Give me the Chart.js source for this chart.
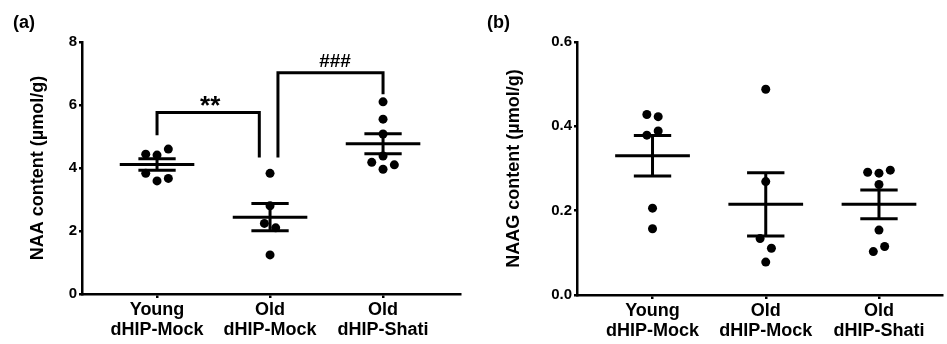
<!DOCTYPE html>
<html>
<head>
<meta charset="utf-8">
<script src="https://cdn.jsdelivr.net/npm/chart.js@4.4.0/dist/chart.umd.min.js"></script>
<style>
  body { margin: 0; background: #fff; width: 947px; height: 344px; overflow: hidden; position: relative; font-family: "Liberation Sans", Arial, sans-serif; }
  .panel { position: absolute; top: 0; height: 344px; }
  #wrapA { left: 0; width: 470px; }
  #wrapB { left: 470px; width: 477px; }
  .tag { position: absolute; top: 13px; font-weight: bold; font-size: 18px; line-height: 1; color: #000; }
</style>
</head>
<body>
<div class="panel" id="wrapA"><canvas id="chartA"></canvas></div>
<div class="panel" id="wrapB"><canvas id="chartB"></canvas></div>
<div class="tag" style="left:13px">(a)</div>
<div class="tag" style="left:487px">(b)</div>
<script>
const FONT = '"Liberation Sans", Arial, sans-serif';

// group labels (two lines each)
const GROUPS = [['Young', 'dHIP-Mock'], ['Old', 'dHIP-Mock'], ['Old', 'dHIP-Shati']];

// (a) NAA content, individual animals + horizontal jitter as drawn
const NAA_YOUNG      = [4.44, 4.41, 4.60, 3.83, 3.59, 3.67];
const NAA_YOUNG_JIT  = [-0.1, 0, 0.1, -0.1, 0, 0.1];
const NAA_OLDM       = [3.83, 2.80, 2.24, 2.10, 1.24];
const NAA_OLDM_JIT   = [0, 0, -0.05, 0.05, 0];
const NAA_SHATI      = [6.10, 5.55, 5.08, 4.38, 4.18, 4.10, 3.96];
const NAA_SHATI_JIT  = [0, 0, 0, 0, -0.1, 0.1, 0];
const NAA_MEAN = [4.11, 2.44, 4.77];
const NAA_SEM  = [0.185, 0.43, 0.315];

// significance brackets on (a)
const BR1_X = [0, 0, 0.905, 0.905];
const BR1_Y = [5.04, 5.76, 5.76, 4.33];
const BR2_X = [1.07, 1.07, 2, 2];
const BR2_Y = [4.33, 7.02, 7.02, 6.34];
const SIG_TEXT = ['**', '###'];
const SIG_X = [0.47, 1.575];
const SIG_Y = [5.70, 7.20];

// (b) NAAG content
const NAAG_YOUNG     = [0.428, 0.423, 0.379, 0.389, 0.206, 0.157];
const NAAG_YOUNG_JIT = [-0.05, 0.05, -0.05, 0.05, 0, 0];
const NAAG_OLDM      = [0.488, 0.269, 0.134, 0.111, 0.078];
const NAAG_OLDM_JIT  = [0, 0, -0.05, 0.05, 0];
const NAAG_SHATI     = [0.291, 0.289, 0.296, 0.262, 0.154, 0.103, 0.115];
const NAAG_SHATI_JIT = [-0.1, 0, 0.1, 0, 0, -0.05, 0.05];
const NAAG_MEAN = [0.330, 0.215, 0.215];
const NAAG_SEM  = [0.048, 0.075, 0.034];

function seg(xs, ys, w) {
  return {
    type: 'line',
    data: xs.map((x, i) => ({ x, y: ys[i] })),
    borderColor: '#000',
    borderWidth: w || 3,
    pointRadius: 0,
    fill: false,
    tension: 0,
    borderCapStyle: 'butt'
  };
}

function buildDatasets(groups, jitters, mean, sem) {
  const ds = [];
  mean.forEach((m, g) => {
    const lo = m - sem[g], hi = m + sem[g];
    ds.push(seg([g - 0.33, g + 0.33], [m, m]));
    ds.push(seg([g - 0.165, g + 0.165], [hi, hi]));
    ds.push(seg([g - 0.165, g + 0.165], [lo, lo]));
    ds.push(seg([g, g], [lo, hi]));
  });
  groups.forEach((vals, g) => {
    ds.push({
      type: 'scatter',
      data: vals.map((v, i) => ({ x: g + jitters[g][i], y: v })),
      pointRadius: 4.5,
      pointHoverRadius: 4.5,
      backgroundColor: '#000',
      borderWidth: 0
    });
  });
  return ds;
}

const sigLabels = {
  id: 'sigLabels',
  afterDatasetsDraw(chart) {
    if (chart.canvas.id !== 'chartA') return;
    const { ctx, scales: { x, y } } = chart;
    SIG_TEXT.forEach((t, i) => {
      ctx.save();
      ctx.font = (i === 0 ? 'bold 26px ' : 'bold 19px ') + FONT;
      ctx.fillStyle = '#000';
      ctx.textAlign = 'center';
      ctx.textBaseline = 'alphabetic';
      ctx.fillText(t, x.getPixelForValue(SIG_X[i]), y.getPixelForValue(SIG_Y[i]));
      ctx.restore();
    });
  }
};

function makeChart(id, datasets, o) {
  return new Chart(document.getElementById(id), {
    type: 'scatter',
    data: { datasets },
    plugins: [sigLabels],
    options: {
      responsive: true,
      maintainAspectRatio: false,
      animation: false,
      layout: { padding: { left: 0, right: o.padRight, top: o.top, bottom: 0 } },
      plugins: { legend: { display: false }, tooltip: { enabled: false } },
      scales: {
        x: {
          type: 'linear',
          min: o.xMin, max: o.xMax,
          afterBuildTicks: s => { s.ticks = GROUPS.map((_, i) => ({ value: i })); },
          afterFit: s => { s.height = o.xHeight; },
          ticks: {
            callback: v => GROUPS[v],
            color: '#000',
            autoSkip: false,
            maxRotation: 0,
            padding: 2,
            font: { family: FONT, size: 18, weight: 'bold', lineHeight: 1.1 }
          },
          grid: { drawOnChartArea: false, color: '#000', lineWidth: 2.5, tickLength: 4 },
          border: { color: '#000', width: 2.5 }
        },
        y: {
          min: 0, max: o.yMax,
          afterFit: s => { s.width = o.yWidth; },
          ticks: {
            stepSize: o.step,
            color: '#000',
            padding: 2,
            callback: o.fmt,
            font: { family: FONT, size: 15, weight: 'bold' }
          },
          grid: { drawOnChartArea: false, color: '#000', lineWidth: 2.5, tickLength: 3 },
          border: { color: '#000', width: 2.5 },
          title: {
            display: true,
            text: o.title,
            color: '#000',
            padding: { top: o.titlePad, bottom: 0 },
            font: { family: FONT, size: 18, weight: 'bold' }
          }
        }
      }
    }
  });
}

const dsA = buildDatasets([NAA_YOUNG, NAA_OLDM, NAA_SHATI], [NAA_YOUNG_JIT, NAA_OLDM_JIT, NAA_SHATI_JIT], NAA_MEAN, NAA_SEM);
dsA.push(seg(BR1_X, BR1_Y, 3), seg(BR2_X, BR2_Y, 3));
makeChart('chartA', dsA, {
  xMin: -0.664, xMax: 2.681, yMax: 8, step: 2, fmt: v => v,
  padRight: 10, top: 42, xHeight: 50, yWidth: 82, titlePad: 27,
  title: 'NAA content (µmol/g)'
});

const dsB = buildDatasets([NAAG_YOUNG, NAAG_OLDM, NAAG_SHATI], [NAAG_YOUNG_JIT, NAAG_OLDM_JIT, NAAG_SHATI_JIT], NAAG_MEAN, NAAG_SEM);
makeChart('chartB', dsB, {
  xMin: -0.667, xMax: 2.561, yMax: 0.6, step: 0.2, fmt: v => v.toFixed(1),
  padRight: 2, top: 42, xHeight: 49, yWidth: 107, titlePad: 33,
  title: 'NAAG content (µmol/g)'
});
</script>
</body>
</html>
